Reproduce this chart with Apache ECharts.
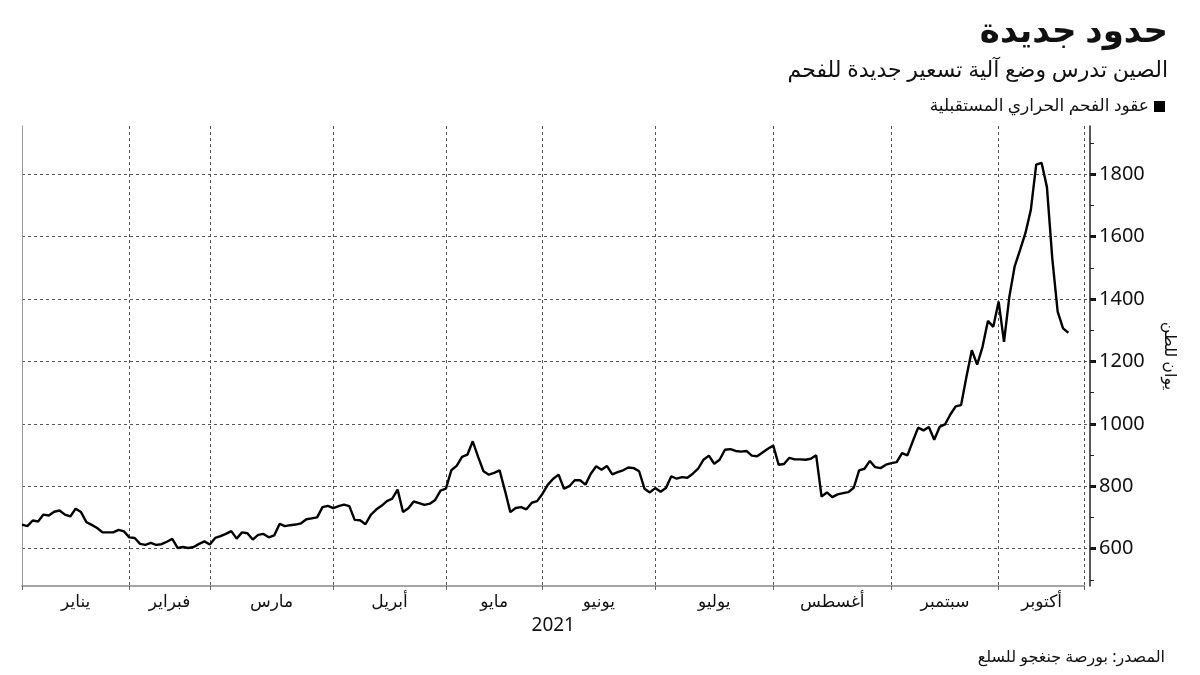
<!DOCTYPE html>
<html>
<head>
<meta charset="utf-8">
<script src="https://cdn.jsdelivr.net/npm/echarts@6/dist/echarts.min.js"></script>
<style>
html,body{margin:0;padding:0;background:#fff;}
#chart{width:1200px;height:675px;}
</style>
</head>
<body>
<div id="chart" dir="rtl"></div>
<script>
// ---- Data (yuan per tonne, daily trading sessions, Zhengzhou thermal coal futures) ----
const monthNames = ['يناير','فبراير','مارس','أبريل','مايو','يونيو','يوليو','أغسطس','سبتمبر','أكتوبر'];
// trading-day slots per month on the axis (October runs to the axis end)
const monthSlots = [20, 15, 23, 21, 18, 21, 22, 22, 20, 16];
const jan = [677, 672, 690, 687, 709, 706, 718, 722, 709, 703, 728, 717, 685, 676, 666, 652, 652, 652, 660, 655];
const feb = [636, 634, 615, 612, 618, 612, 614, 622, 631, 602, 605, 602, 605, 615, 623];
const mar = [613, 634, 640, 647, 656, 632, 652, 649, 629, 644, 647, 636, 642, 679, 672, 675, 677, 681, 694, 697, 700, 733, 737];
const apr = [730, 736, 741, 736, 692, 691, 678, 708, 725, 737, 752, 760, 789, 717, 729, 751, 746, 740, 744, 756, 786];
const may = [792, 851, 865, 894, 901, 944, 894, 848, 837, 843, 851, 786, 717, 730, 733, 726, 747, 752];
const jun = [776, 805, 824, 837, 792, 800, 819, 819, 805, 840, 864, 853, 865, 838, 845, 851, 860, 858, 848, 792, 780];
const jul = [794, 782, 794, 832, 824, 829, 827, 840, 856, 885, 898, 872, 885, 917, 919, 913, 911, 913, 898, 896, 908, 920];
const aug = [930, 869, 871, 891, 886, 886, 885, 888, 899, 767, 780, 765, 774, 778, 781, 795, 851, 856, 881, 861, 858, 869];
const sep = [874, 877, 906, 899, 944, 988, 979, 990, 949, 990, 998, 1030, 1056, 1060, 1151, 1236, 1190, 1247, 1330, 1311];
const oct = [1392, 1263, 1408, 1506, 1558, 1612, 1686, 1831, 1837, 1759, 1530, 1360, 1306, 1292];
const yLabelRange = {min: 600, max: 1800, step: 200};
const yMinorRange = {min: 500, max: 1900, step: 100};
const yearLabel = '2021';
const seriesName = 'عقود الفحم الحراري المستقبلية';

// ---- Build axis helpers ----
const prices = [].concat(jan, feb, mar, apr, may, jun, jul, aug, sep, oct);
const monthStarts = [];
let acc = 0;
monthSlots.forEach(n => { monthStarts.push(acc); acc += n; });
const lastIdx = acc; // axis end
const cats = Array.from({length: lastIdx + 1}, (_, i) => String(i));
const halfCats = Array.from({length: 2 * lastIdx + 1}, (_, i) => 'h' + i);
const boundary = new Set(monthStarts.concat([lastIdx]));
const midLabel = {};
monthStarts.forEach((s, k) => { midLabel[2 * s + monthSlots[k]] = monthNames[k]; });

const FONT = "'Noto Sans', 'DejaVu Sans', sans-serif";
const dashed = {color: '#555', width: 1, type: [3, 3]};

const chart = echarts.init(document.getElementById('chart'), null, {renderer: 'canvas'});
chart.setOption({
  animation: false,
  backgroundColor: '#fff',
  textStyle: {fontFamily: FONT},
  title: [
    {text: 'حدود جديدة', right: 27, top: 10,
     textStyle: {fontSize: 34, fontWeight: 'bold', color: '#111', fontFamily: FONT}},
    {text: 'الصين تدرس وضع آلية تسعير جديدة للفحم', right: 27, top: 55,
     textStyle: {fontSize: 22, fontWeight: 'normal', color: '#111', fontFamily: FONT}},
    {text: 'المصدر: بورصة جنغجو للسلع', right: 30, top: 644,
     textStyle: {fontSize: 16, fontWeight: 'normal', color: '#111', fontFamily: FONT}}
  ],
  legend: {
    right: 30, top: 93, align: 'right', icon: 'rect', itemWidth: 11, itemHeight: 11, itemGap: 6,
    textStyle: {fontSize: 17, color: '#111', fontFamily: FONT},
    data: [seriesName]
  },
  grid: [
    {left: 22, right: 115.5, top: 126, bottom: 89},
    {left: 22, right: 110, top: 174.3, bottom: 126.4},
    {left: 22, right: 110, top: 143.2, bottom: 95.2}
  ],
  xAxis: [
    {gridIndex: 0, type: 'category', data: cats, boundaryGap: false,
     axisLine: {onZero: false, lineStyle: {color: '#888', width: 1.5}},
     axisTick: {show: true, length: 4, interval: (i) => boundary.has(i), lineStyle: {color: '#666'}},
     axisLabel: {show: false},
     splitLine: {show: true, interval: (i) => boundary.has(i) && i !== 0, lineStyle: dashed}},
    {gridIndex: 0, type: 'category', data: halfCats, boundaryGap: false, position: 'bottom',
     axisLine: {show: false, onZero: false}, axisTick: {show: false}, splitLine: {show: false},
     axisLabel: {show: true, interval: (i) => midLabel[i] !== undefined,
       formatter: (v, i) => midLabel[i] || '', fontSize: 17, color: '#111', margin: 8, fontFamily: FONT},
     name: yearLabel, nameLocation: 'middle', nameGap: 28,
     nameTextStyle: {fontSize: 19, color: '#111', fontFamily: FONT}},
    {gridIndex: 1, type: 'category', data: ['a'], show: false, axisLine: {onZero: false}},
    {gridIndex: 2, type: 'category', data: ['a'], show: false, axisLine: {onZero: false}}
  ],
  yAxis: [
    {gridIndex: 0, type: 'value', position: 'right', offset: 5.5, min: 480, max: 1955,
     axisLine: {show: true, onZero: false, lineStyle: {color: '#222', width: 1.5}},
     axisTick: {show: false}, axisLabel: {show: false}, splitLine: {show: false},
     name: 'يوان للطن', nameLocation: 'middle', nameRotate: -90, nameGap: 72,
     nameTextStyle: {fontSize: 16, color: '#111', fontFamily: FONT}},
    {gridIndex: 0, type: 'value', position: 'left', min: 480, max: 1955,
     axisLine: {show: true, onZero: false, lineStyle: {color: '#999', width: 1}},
     axisTick: {show: false}, axisLabel: {show: false}, splitLine: {show: false}},
    {gridIndex: 1, type: 'value', position: 'right', min: yLabelRange.min, max: yLabelRange.max, interval: yLabelRange.step,
     axisLine: {show: false, onZero: false},
     axisTick: {show: true, inside: false, length: 6, lineStyle: {color: '#111', width: 3}},
     axisLabel: {show: true, fontSize: 20, color: '#111', margin: 9, fontFamily: FONT,
       formatter: (v) => String(v)},
     splitLine: {show: true, lineStyle: dashed}},
    {gridIndex: 2, type: 'value', position: 'right', min: yMinorRange.min, max: yMinorRange.max, interval: yMinorRange.step,
     axisLine: {show: false, onZero: false},
     axisTick: {show: true, inside: false, length: 4, lineStyle: {color: '#222', width: 1}},
     axisLabel: {show: false}, splitLine: {show: false}}
  ],
  series: [
    {name: seriesName, type: 'line', xAxisIndex: 0, yAxisIndex: 0, data: prices,
     showSymbol: false, symbol: 'none', smooth: false,
     itemStyle: {color: '#000'},
     lineStyle: {color: '#000', width: 2.4}}
  ]
});
</script>
</body>
</html>
